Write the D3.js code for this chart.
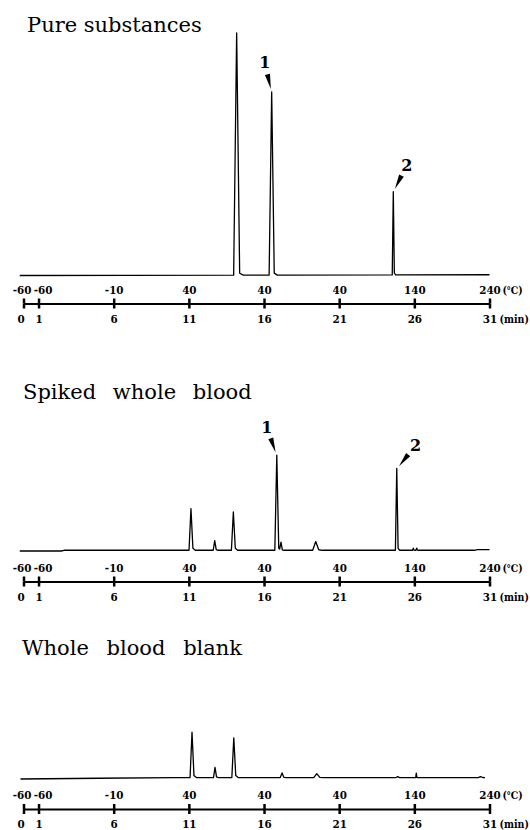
<!DOCTYPE html>
<html>
<head>
<meta charset="utf-8">
<script src="https://cdnjs.cloudflare.com/ajax/libs/d3/7.8.5/d3.min.js"></script>
<style>
    body { margin: 0; background: #fff; }
    svg text { font-family: "DejaVu Serif", "Liberation Serif", serif; fill: #000; }
    .tick-label { font-family: "DejaVu Serif Condensed", "DejaVu Serif", serif; font-weight: bold; font-size: 11.5px; }
</style>
</head>
<body>
<svg id="chart" width="530" height="830"></svg>
<script>
// time axis (min) and oven temperature at each tick (C)
var minuteTicks = [0, 1, 6, 11, 16, 21, 26, 31];
var tempLabels = ["-60", "-60", "-10", "40", "40", "40", "140", "240"];

// Pure substances: retention time (min), height (% of largest peak), half width (min)
var pureTime = [14.18, 16.51, 24.60];
var pureHeight = [100, 75.6, 34.4];
var pureWidth = [0.2, 0.17, 0.07];
var pureBase = [[-0.25, 0], [31, 0.3]];
var pureMarks = [[1, "1"], [2, "2"]]; // peak index, label

// Spiked whole blood
var spikedTime = [11.14, 12.72, 13.96, 16.85, 17.13, 19.44, 24.83, 25.93, 26.16];
var spikedHeight = [17.2, 4.0, 15.8, 39.3, 3.3, 3.6, 33.8, 0.9, 0.9];
var spikedWidth = [0.13, 0.1, 0.13, 0.13, 0.09, 0.2, 0.09, 0.05, 0.05];
var spikedBase = [[-0.25, 0], [2.5, 0], [2.7, 0.3], [30.0, 0.3], [30.2, 0.6], [31, 0.6]];
var spikedMarks = [[3, "1"], [6, "2"]];

// Whole blood blank
var blankTime = [11.21, 12.74, 13.99, 17.2, 19.51, 24.89, 26.13, 30.4];
var blankHeight = [18.7, 4.2, 16.4, 1.9, 1.6, 0.4, 1.8, 0.4];
var blankWidth = [0.13, 0.1, 0.13, 0.12, 0.2, 0.1, 0.04, 0.15];
var blankBase = [[-0.2, 0], [5, 0.3], [10, 0.6], [30.7, 0.6]];
var blankMarks = [];

var panels = [
    { title: "Pure substances", tx: 27, ty: 32, spacing: 0, zeroY: 275.5, axisY: 303.5,
      time: pureTime, height: pureHeight, width: pureWidth, base: pureBase, marks: pureMarks,
      arrows: [[4, 17], [-6.6, 13.4]] },
    { title: "Spiked whole blood", tx: 23, ty: 399, spacing: 10, zeroY: 551, axisY: 581.5,
      time: spikedTime, height: spikedHeight, width: spikedWidth, base: spikedBase, marks: spikedMarks,
      arrows: [[4.4, 12.8], [-8.5, 10.8]] },
    { title: "Whole blood blank", tx: 22, ty: 655, spacing: 11, zeroY: 779, axisY: 809,
      time: blankTime, height: blankHeight, width: blankWidth, base: blankBase, marks: blankMarks,
      arrows: [] }
];

var svg = d3.select("#chart");
svg.append("rect").attr("width", 530).attr("height", 830).attr("fill", "#fff");

var x = d3.scaleLinear().domain([0, 31]).range([23.5, 489.5]);
var pxPerUnit = 2.423; // same signal scale in all three traces

// 由峰參數建立層析圖曲線
function buildTrace(p) {
    var baseline = d3.scaleLinear()
        .domain(p.base.map(function(d) { return d[0]; }))
        .range(p.base.map(function(d) { return d[1]; }))
        .clamp(true);
    var shapes = p.time.map(function(t, i) {
        var w = p.width[i], h = p.height[i];
        return d3.scaleLinear()
            .domain([t - w, t, t + w, t + w * 2.2])
            .range([0, h, Math.min(h * 0.06, 0.8), 0])
            .clamp(true);
    });
    var pts = p.base.map(function(d) { return d[0]; });
    p.time.forEach(function(t, i) {
        var w = p.width[i];
        pts.push(t - w, t, t + w, t + w * 2.2);
    });
    pts = Array.from(new Set(pts)).sort(d3.ascending);
    var t0 = p.base[0][0], t1 = p.base[p.base.length - 1][0];
    pts = pts.filter(function(t) { return t >= t0 && t <= t1; });
    return pts.map(function(t) {
        return [t, baseline(t) + d3.sum(shapes, function(s) { return s(t); })];
    });
}

function drawPanel(p) {
    var g = svg.append("g");
    var y = d3.scaleLinear().domain([0, 100]).range([p.zeroY, p.zeroY - 100 * pxPerUnit]);

    g.append("text")
        .attr("x", p.tx).attr("y", p.ty)
        .attr("font-size", 21)
        .attr("word-spacing", p.spacing)
        .text(p.title);

    var line = d3.line()
        .x(function(d) { return x(d[0]); })
        .y(function(d) { return y(d[1]); });

    g.append("path")
        .datum(buildTrace(p))
        .attr("d", line)
        .attr("fill", "none")
        .attr("stroke", "#000")
        .attr("stroke-width", 1.3)
        .attr("stroke-linejoin", "round");

    // peak arrows and numbers
    p.marks.forEach(function(m, k) {
        var i = m[0];
        var dir = p.arrows[k];
        var len = Math.sqrt(dir[0] * dir[0] + dir[1] * dir[1]);
        var ux = dir[0] / len, uy = dir[1] / len;
        var ax = x(p.time[i]), ay = y(p.height[i]);
        var tipX = ax - ux * 3.5, tipY = ay - uy * 3.5;
        var tailX = tipX - ux * 15, tailY = tipY - uy * 15;
        var nx = -uy * 2.6, ny = ux * 2.6;
        g.append("path")
            .attr("d", "M" + (tailX + nx) + "," + (tailY + ny) +
                       "L" + (tailX - nx) + "," + (tailY - ny) +
                       "L" + tipX + "," + tipY + "Z")
            .attr("fill", "#000");
        g.append("text")
            .attr("x", tailX - ux * 12)
            .attr("y", tailY - uy * 12)
            .attr("dy", "0.36em")
            .attr("text-anchor", "middle")
            .attr("font-size", 16)
            .attr("font-weight", "bold")
            .text(m[1]);
    });

    // time axis below, temperature labels above
    var axisBottom = d3.axisBottom(x)
        .tickValues(minuteTicks)
        .tickSizeInner(5).tickSizeOuter(0).tickPadding(6)
        .tickFormat(d3.format("d"));
    var axisTop = d3.axisTop(x)
        .tickValues(minuteTicks)
        .tickSizeInner(5).tickSizeOuter(0).tickPadding(5)
        .tickFormat(function(d, i) { return tempLabels[i]; });

    var gb = g.append("g").attr("transform", "translate(0," + p.axisY + ")").call(axisBottom);
    var gt = g.append("g").attr("transform", "translate(0," + p.axisY + ")").call(axisTop);
    [gb, gt].forEach(function(a) {
        a.select(".domain").attr("stroke", "#000").attr("stroke-width", 2);
        a.selectAll(".tick line").attr("stroke", "#000").attr("stroke-width", 2.5);
        a.selectAll(".tick text").attr("class", "tick-label").attr("fill", "#000");
    });
    gt.select(".domain").remove();
    // spread the crowded labels at 0 and 1 min
    gt.selectAll(".tick text").attr("dx", function(d) { return d == 0 ? -2 : (d == 1 ? 4 : 0); });
    gb.selectAll(".tick text").attr("dx", function(d) { return d == 0 ? -3 : 0; });

    g.append("text").attr("class", "tick-label")
        .attr("x", x(31) + 13).attr("y", p.axisY - 10)
        .style("font-size", "10.5px")
        .text("(\u2103)");
    g.append("text").attr("class", "tick-label")
        .attr("x", x(31) + 10).attr("y", p.axisY + 19)
        .style("font-size", "10.5px")
        .text("(min)");
}

panels.forEach(drawPanel);
</script>
</body>
</html>
